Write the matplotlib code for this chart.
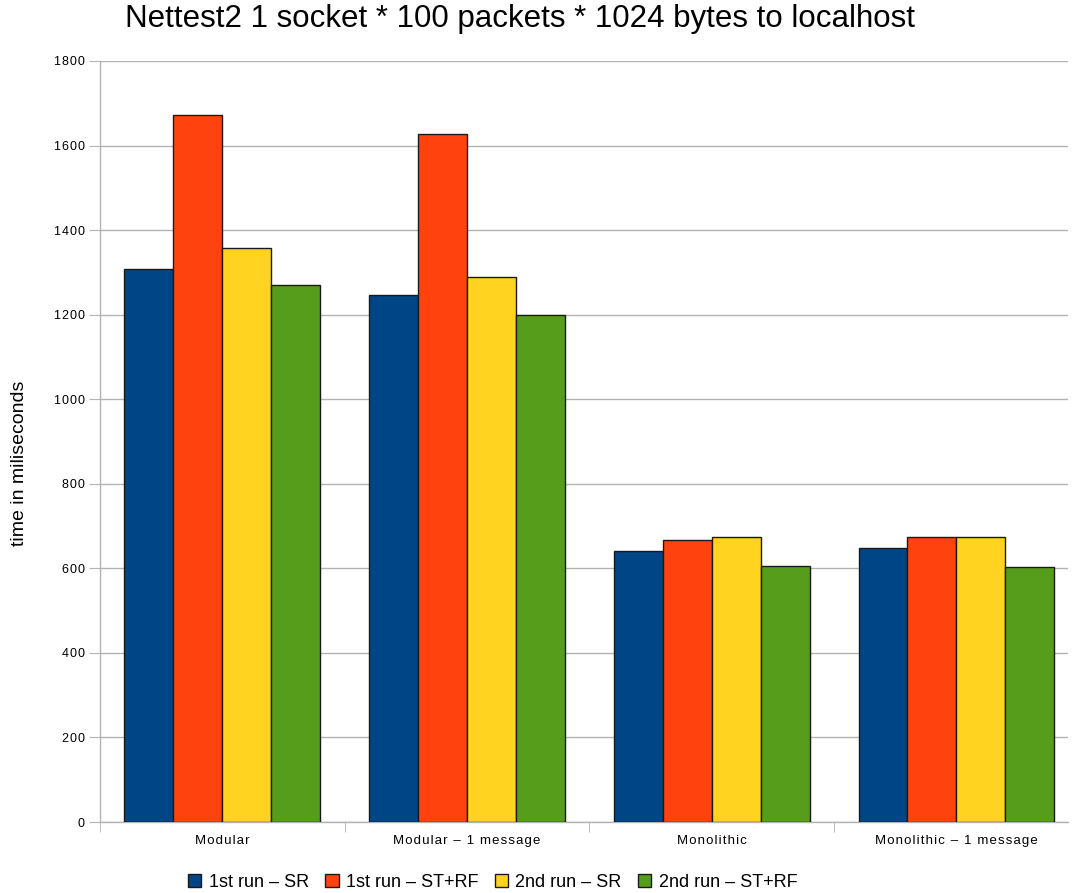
import matplotlib.pyplot as plt
import numpy as np

plt.rcParams['font.family'] = ['Liberation Sans', 'DejaVu Sans']

# Benchmark timings in milliseconds
categories = ['Modular', 'Modular – 1 message', 'Monolithic', 'Monolithic – 1 message']
series_names = ['1st run – SR', '1st run – ST+RF', '2nd run – SR', '2nd run – ST+RF']
first_sr = [1308, 1246, 641, 648]
first_strf = [1672, 1627, 667, 673]
second_sr = [1358, 1288, 674, 674]
second_strf = [1271, 1199, 605, 603]
y_ticks = [0, 200, 400, 600, 800, 1000, 1200, 1400, 1600, 1800]

colors = ['#004586', '#ff420e', '#ffd320', '#579d1c']
series = [first_sr, first_strf, second_sr, second_strf]


def spaced(text):
    # widen the tracking a little with hair spaces
    return '\u200a'.join(text)


fig = plt.figure(figsize=(10.73, 8.93), dpi=100)
ax = fig.add_axes([0.0932, 0.0795, 0.9021, 0.8522])

x = np.arange(len(categories))
bar_width = 0.2
for i, (name, vals, col) in enumerate(zip(series_names, series, colors)):
    offset = (i - 1.5) * bar_width
    ax.bar(x + offset, vals, bar_width, color=col, edgecolor='#1a1a1a',
           linewidth=1.0, label=name, zorder=3)

ax.set_xlim(-0.5, 3.456)
ax.set_ylim(0, 1800)
ax.set_yticks(y_ticks)
ax.set_yticklabels([spaced(str(v)) for v in y_ticks], fontsize=9)
ax.yaxis.grid(True, color='#b3b3b3', linewidth=1.0, zorder=0)
ax.tick_params(axis='y', length=8, color='#b3b3b3', pad=3)

# category labels centred, tick marks between groups
ax.set_xticks(x)
ax.set_xticklabels([spaced(c) for c in categories], fontsize=9.5)
ax.tick_params(axis='x', length=0, pad=9)
ax.set_xticks(np.arange(len(categories)) - 0.5, minor=True)
ax.tick_params(axis='x', which='minor', length=7, color='#b3b3b3')

for side in ['top', 'right']:
    ax.spines[side].set_visible(False)
for side in ['left', 'bottom']:
    ax.spines[side].set_color('#b3b3b3')
    ax.spines[side].set_linewidth(1.0)

fig.text(20 / 1073, 1 - 463 / 893, 'time in miliseconds', rotation=90,
         ha='center', va='center', fontsize=14)
fig.text(0.485, 0.979, 'Nettest2 1 socket * 100 packets * 1024 bytes to localhost',
         ha='center', va='center', fontsize=22.5)

fig.legend(loc='center', bbox_to_anchor=(0.459, 0.012), ncol=4, frameon=False,
           fontsize=13, handlelength=0.75, handleheight=0.75, handletextpad=0.4,
           columnspacing=0.9)

fig.savefig('out.png', dpi=100)
